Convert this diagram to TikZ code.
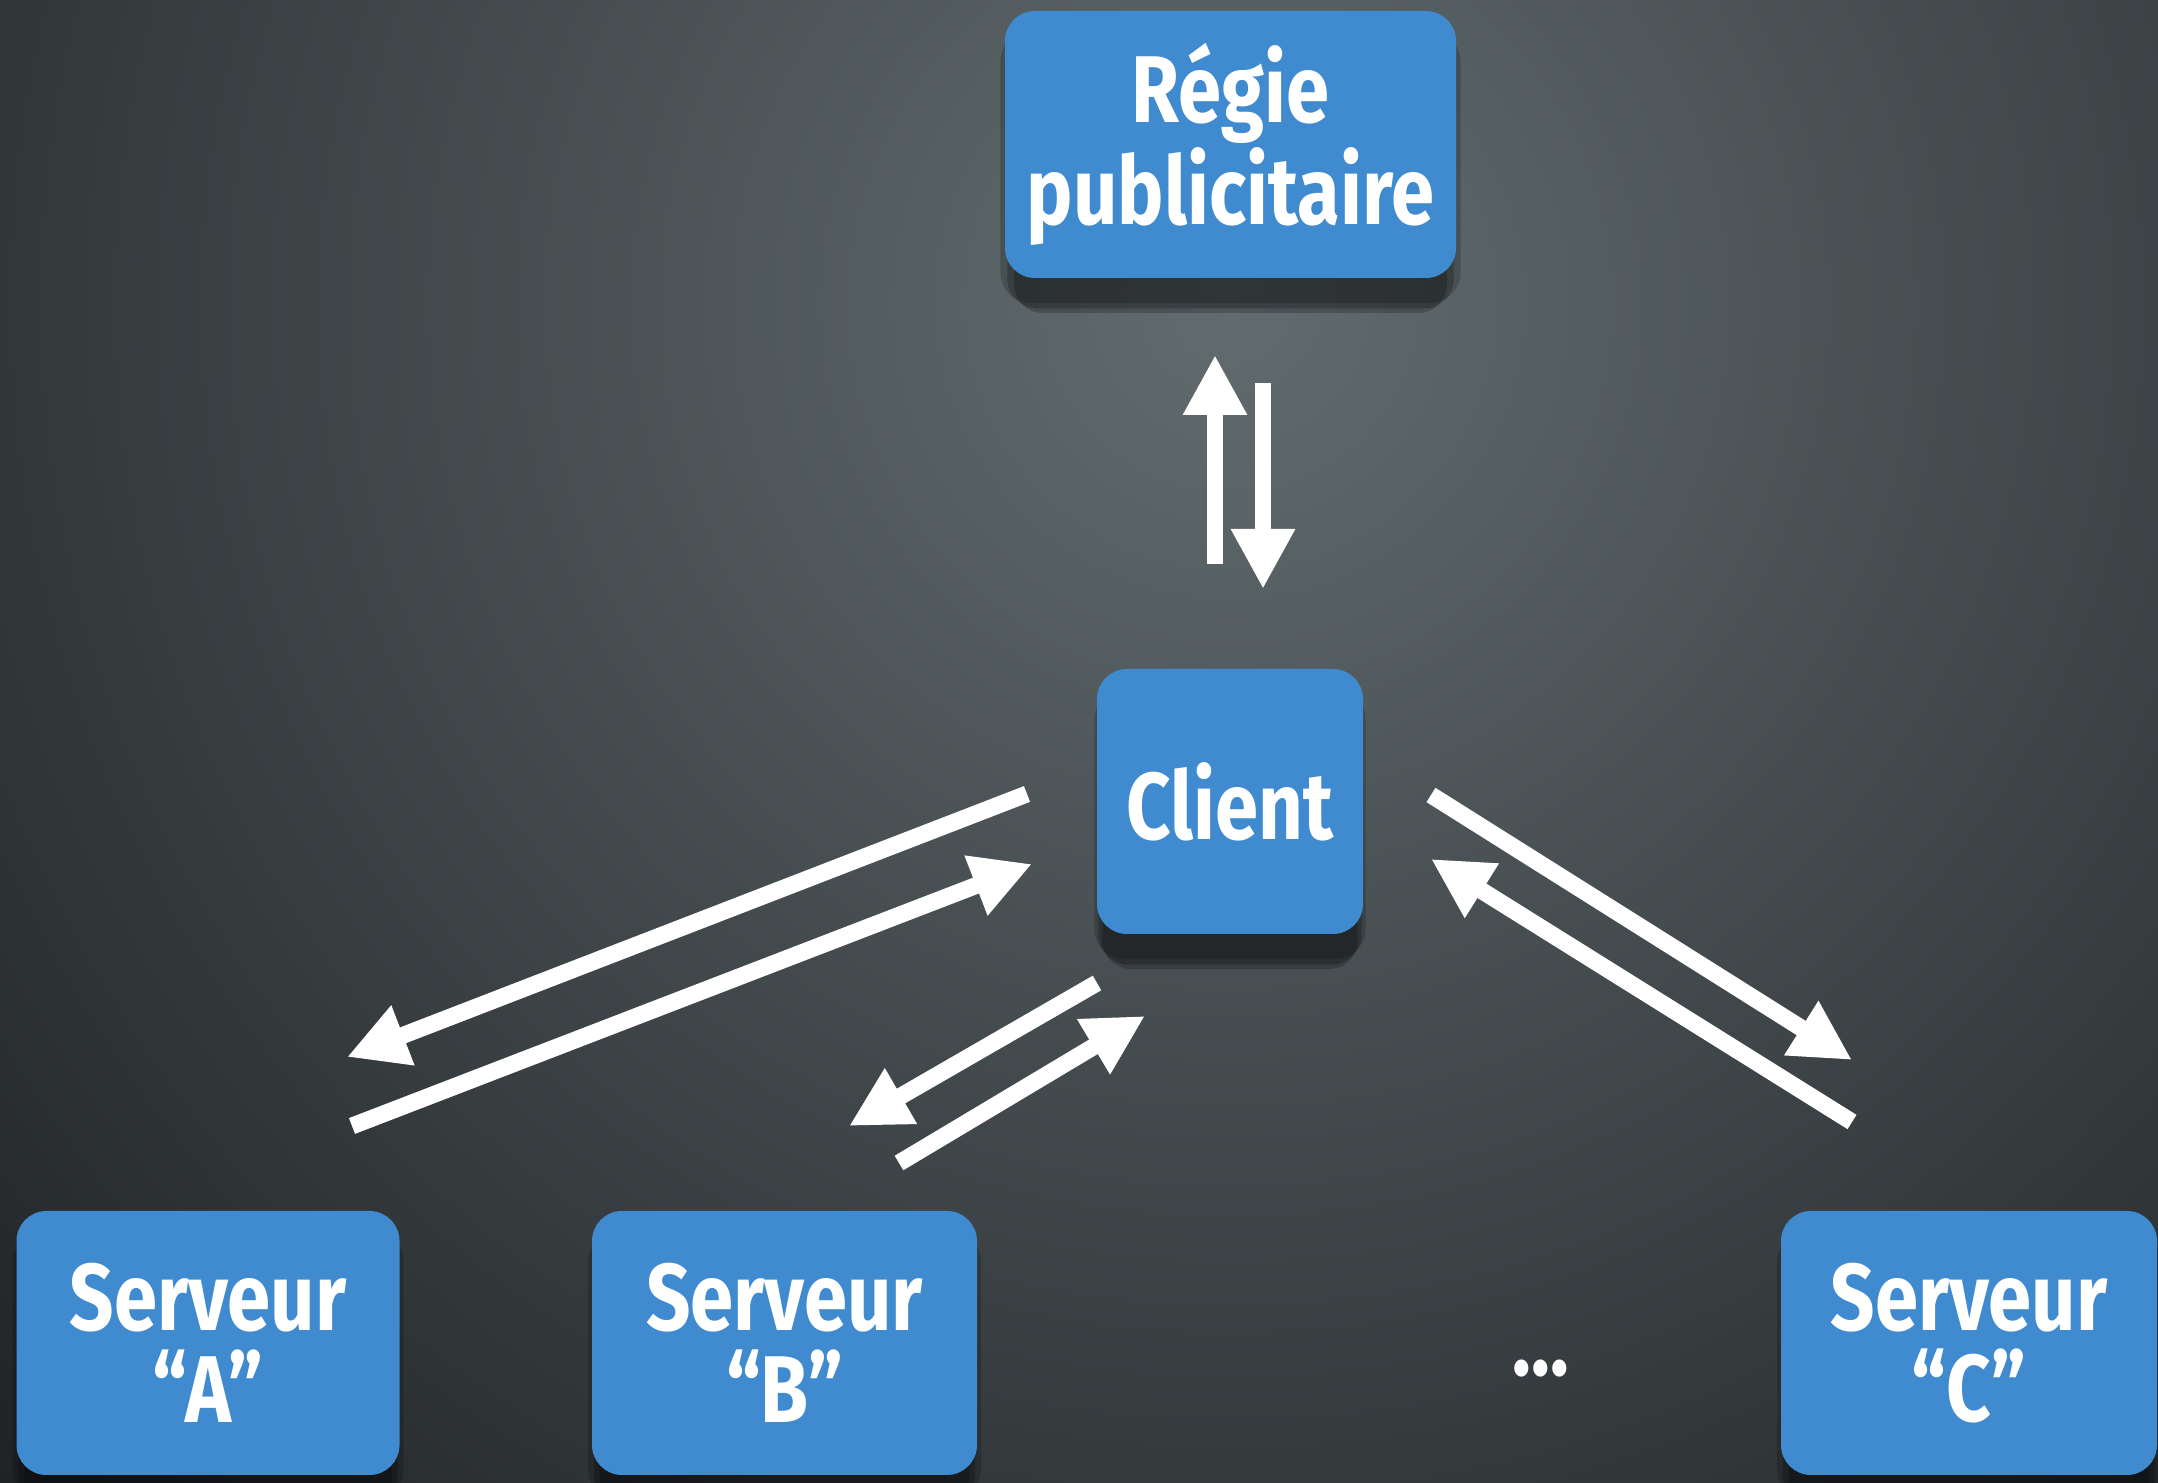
\documentclass[tikz,border=0pt]{standalone}
\usepackage{fontspec}
\setmainfont{Fira Sans}[FakeStretch=0.82]
\usepackage{tikz}
\usetikzlibrary{arrows.meta, positioning, shadows}
\definecolor{boxblue}{RGB}{64,139,208}
\definecolor{bgin}{RGB}{98,108,111}
\definecolor{bgout}{RGB}{16,18,20}
\tikzset{
  srvbox/.style={rectangle, fill=boxblue, rounded corners=0.3cm,
                 text=white, font=\fontsize{27}{26}\selectfont\bfseries,
                 align=center, inner sep=0pt,
                 drop shadow={shadow xshift=0cm, shadow yshift=-0.22cm,
                              shadow scale=1.02, opacity=0.18, fill=black},
                 drop shadow={shadow xshift=0cm, shadow yshift=-0.32cm,
                              shadow scale=0.99, opacity=0.22, fill=black},
                 drop shadow={shadow xshift=0cm, shadow yshift=-0.42cm,
                              shadow scale=0.96, opacity=0.22, fill=black}},
  flow/.style={-{Triangle[length=0.6cm, width=0.6cm]},
               line width=4.8pt, draw=white},
}

\begin{document}
\begin{tikzpicture}[
  dots/.style={text=white, font=\fontsize{27}{26}\selectfont\bfseries,
               inner sep=0pt, anchor=base}
]

  % Background
  \useasboundingbox (0,0) rectangle (21.58,14.83);
  \fill[bgout] (0,0) rectangle (21.58,14.83);
  \begin{scope}
    \clip (0,0) rectangle (21.58,14.83);
    \shade[inner color=bgin, outer color=bgout] (12.3,11.8) circle (21);
  \end{scope}

  % Boxes
  \node[srvbox, minimum width=4.51cm, minimum height=2.67cm]
       (regie) at (12.305,13.385) {Régie\\publicitaire};
  \node[srvbox, minimum width=2.66cm, minimum height=2.65cm]
       (client) at (12.30,6.815) {Client};
  \node[srvbox, minimum width=3.83cm, minimum height=2.64cm]
       (srvA) at (2.08,1.40) {Serveur\\“A”};
  \node[srvbox, minimum width=3.85cm, minimum height=2.64cm]
       (srvB) at (7.845,1.40) {Serveur\\“B”};
  \node[srvbox, minimum width=3.76cm, minimum height=2.64cm]
       (srvC) at (19.69,1.40) {Serveur\\“C”};
  \node[dots] (more) at (15.41,1.07) {...};

  % Arrow ends
  \coordinate (upT)  at (12.15,9.19);  \coordinate (upH)  at (12.15,11.28);
  \coordinate (dnT)  at (12.63,11.00); \coordinate (dnH)  at (12.63,8.94);
  \coordinate (aoT)  at (10.27,6.89);  \coordinate (aoH)  at (3.47,4.26);
  \coordinate (aiT)  at (3.52,3.57);   \coordinate (aiH)  at (10.32,6.19);
  \coordinate (boT)  at (10.97,5.00);  \coordinate (boH)  at (8.49,3.57);
  \coordinate (biT)  at (8.99,3.20);   \coordinate (biH)  at (11.45,4.67);
  \coordinate (coT)  at (14.31,6.88);  \coordinate (coH)  at (18.52,4.23);
  \coordinate (ciT)  at (18.52,3.61);  \coordinate (ciH)  at (14.31,6.24);

  % Requests and answers
  \draw[flow] (upT) -- (upH);  \draw[flow] (dnT) -- (dnH);
  \draw[flow] (aoT) -- (aoH);  \draw[flow] (aiT) -- (aiH);
  \draw[flow] (boT) -- (boH);  \draw[flow] (biT) -- (biH);
  \draw[flow] (coT) -- (coH);  \draw[flow] (ciT) -- (ciH);

\end{tikzpicture}
\end{document}
